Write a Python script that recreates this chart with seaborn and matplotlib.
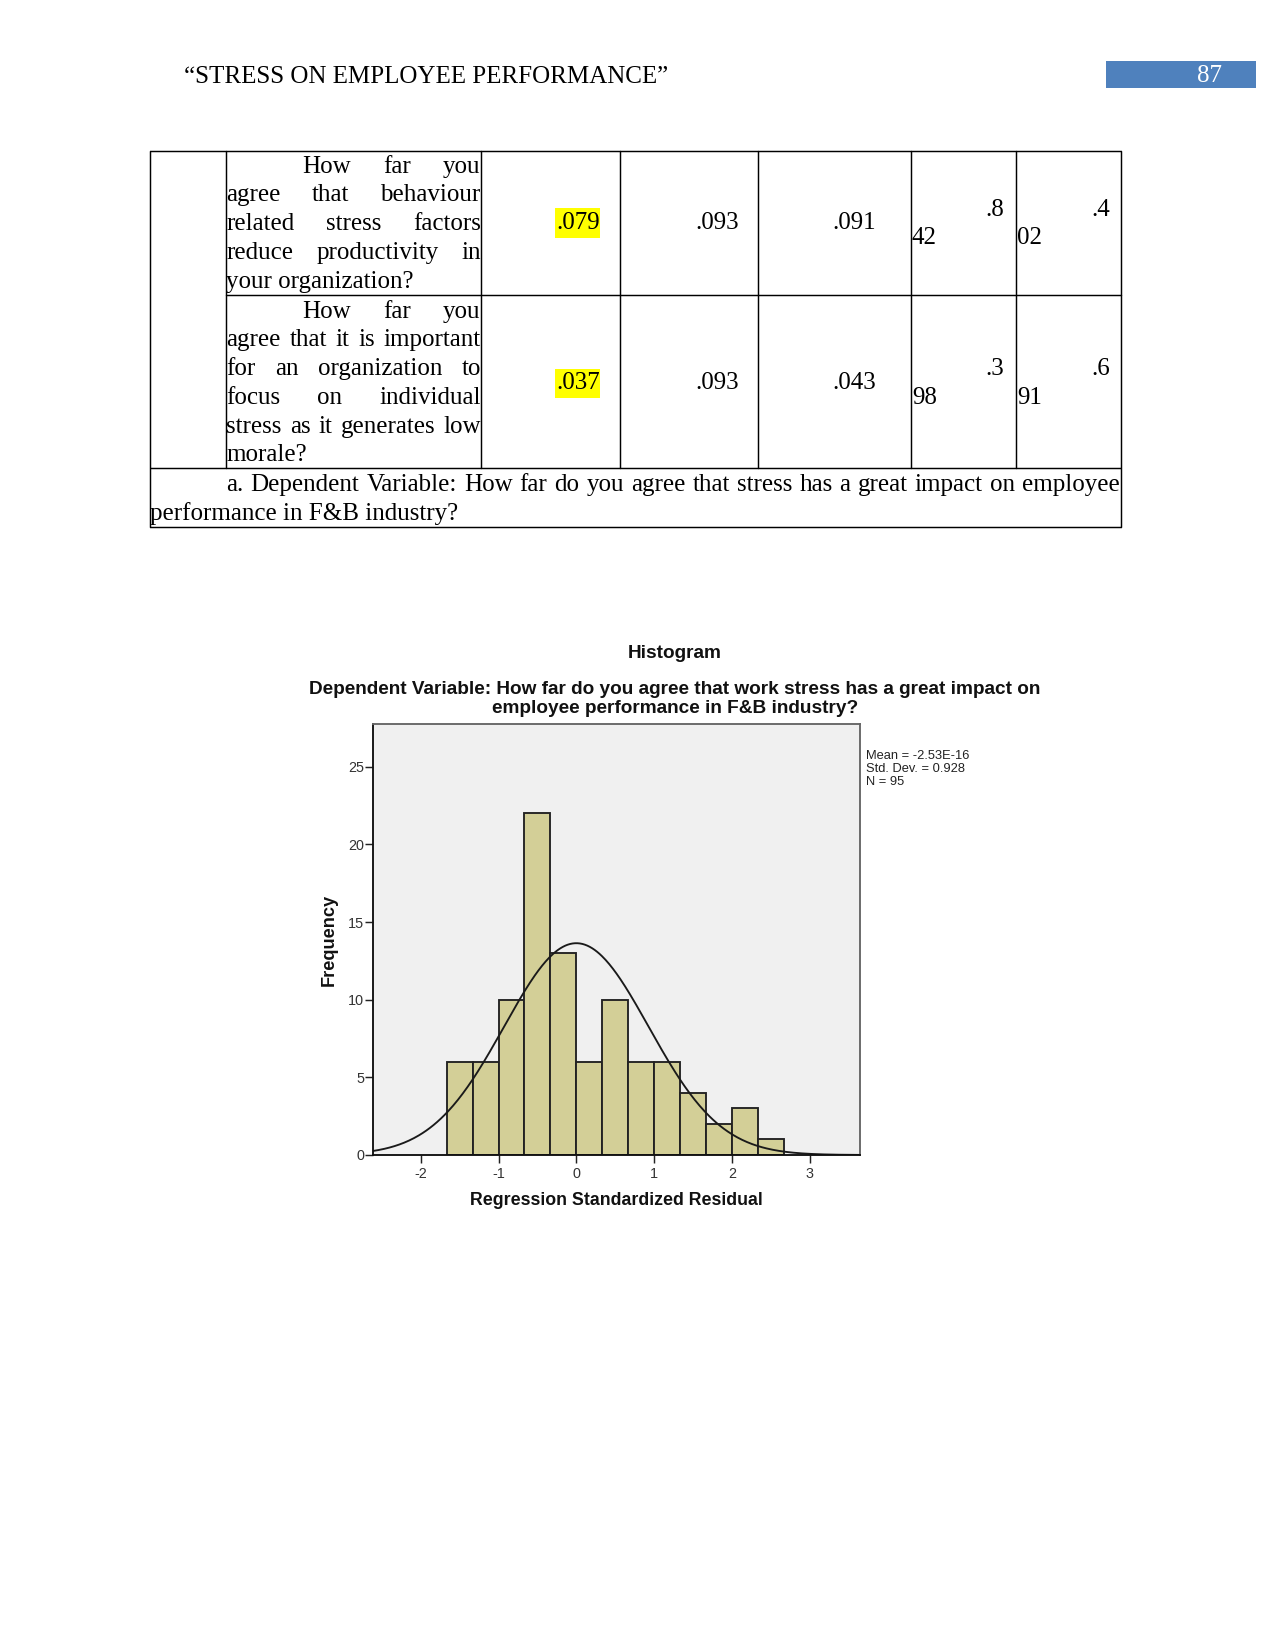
import numpy as np
import pandas as pd
import matplotlib
matplotlib.use("Agg")
import matplotlib.pyplot as plt
import seaborn as sns

# ---------------- data ----------------
bin_edges = [-1.667, -1.333, -1.0, -0.667, -0.333, 0.0, 0.333, 0.667, 1.0,
             1.333, 1.667, 2.0, 2.333, 2.667]
counts = [6, 6, 10, 22, 13, 6, 10, 6, 6, 4, 2, 3, 1]
resid_mean = -2.53e-16
resid_sd = 0.928
resid_n = 95
x_ticks = [-2, -1, 0, 1, 2, 3]
y_ticks = [0, 5, 10, 15, 20, 25]

header_title = "\u201cSTRESS ON EMPLOYEE PERFORMANCE\u201d"
page_number = "87"

row1_lines = ["How far you", "agree that behaviour", "related stress factors",
              "reduce productivity in", "your organization?"]
row2_lines = ["How far you", "agree that it is important", "for an organization to",
              "focus on individual", "stress  as it generates low", "morale?"]
row1_vals = [".079", ".093", ".091"]
row2_vals = [".037", ".093", ".043"]
row1_split = [(".8", "42"), (".4", "02")]
row2_split = [(".3", "98"), (".6", "91")]
footnote_lines = ["a. Dependent Variable: How far do you agree that stress has a great impact on employee",
                  "performance in F&B industry?"]

hist_title = "Histogram"
hist_subtitle = ["Dependent Variable: How far do you agree that work stress has a great impact on",
                 "employee performance in F&B industry?"]
x_label = "Regression Standardized Residual"
y_label = "Frequency"
legend_lines = ["Mean = -2.53E-16", "Std. Dev. = 0.928", "N = 95"]

# ---------------- figure ----------------
sns.set_style("white")
plt.rcParams['font.family'] = ['Liberation Serif', 'DejaVu Sans']

W, H = 1275, 1650
fig = plt.figure(figsize=(W / 150, H / 150), dpi=150)
page = fig.add_axes([0, 0, 1, 1])
page.set_xlim(0, W)
page.set_ylim(H, 0)
page.axis("off")
renderer = fig.canvas.get_renderer()

serif = dict(family=['Liberation Serif', 'DejaVu Serif'], fontsize=12, color='black')

# header
page.text(184, 77, header_title, ha='left', va='center', **serif)
page.add_patch(plt.Rectangle((1106, 61), 150, 27, color='#4F81BD', lw=0))
page.text(1222, 76, page_number, ha='right', va='center',
          family=['Liberation Serif'], fontsize=12, color='white')

# table lines
lw = 0.7
xl, xr = 149.5, 1121
cols = [226.4, 480.7, 619.5, 757.7, 911, 1015.7]
yt, yr, yf, yb = 150.7, 295.3, 468.3, 527.3
for y in (yt, yf, yb):
    page.plot([xl, xr], [y, y], color='black', lw=lw, solid_capstyle='butt')
page.plot([cols[0], xr], [yr, yr], color='black', lw=lw)
for x in [xl, xr]:
    page.plot([x, x], [yt, yb], color='black', lw=lw)
for x in cols:
    page.plot([x, x], [yt, yf], color='black', lw=lw)


def justify(words_line, x0, x1, y):
    words = words_line.split()
    texts = [page.text(0, y, w, ha='left', va='center', **serif) for w in words]
    widths = [t.get_window_extent(renderer).width for t in texts]
    if len(words) == 1:
        texts[0].set_x(x0)
        return
    gap = (x1 - x0 - sum(widths)) / (len(words) - 1)
    x = x0
    for t, w in zip(texts, widths):
        t.set_x(x)
        x += w + gap


def cell_lines(lines, y0, step):
    for i, ln in enumerate(lines):
        y = y0 + i * step
        x0 = 302.1 if i == 0 else cols[0]
        if i == len(lines) - 1:
            page.text(x0, y, ln, ha='left', va='center', **serif)
        else:
            justify(ln, x0, cols[1], y)


cell_lines(row1_lines, 166.7, 28.75)
cell_lines(row2_lines, 311.7, 28.75)

val_centers = [577.9, 716.7, 854.2]
for vals, yv, yh in [(row1_vals, 223.3, 208.3), (row2_vals, 383.3, 368.5)]:
    page.add_patch(plt.Rectangle((555, yh), 45, 29.4, color='#FFFF00', lw=0, zorder=1))
    for v, xc in zip(vals, val_centers):
        page.text(xc, yv, v, ha='center', va='center', zorder=3, **serif)

for splits, ya, yb2 in [(row1_split, 210, 238.3), (row2_split, 369.3, 397.5)]:
    (a1, b1), (a2, b2) = splits
    page.text(1004.5, ya, a1, ha='right', va='center', **serif)
    page.text(912, yb2, b1, ha='left', va='center', **serif)
    page.text(1110, ya, a2, ha='right', va='center', **serif)
    page.text(1017, yb2, b2, ha='left', va='center', **serif)

justify(footnote_lines[0], 226.4, 1119.5, 485)
page.text(149.5, 513.3, footnote_lines[1], ha='left', va='center', **serif)

# ---------------- histogram ----------------
sans = ['Liberation Sans', 'DejaVu Sans']
ax_l, ax_r, ax_t, ax_b = 372.5, 859.5, 723.8, 1155
ax = fig.add_axes([ax_l / W, (H - ax_b) / H, (ax_r - ax_l) / W, (ax_b - ax_t) / H])
ax.set_facecolor('#F0F0F0')

centers = [(bin_edges[i] + bin_edges[i + 1]) / 2 for i in range(len(counts))]
df = pd.DataFrame({"resid": centers, "count": counts})
sns.histplot(data=df, x="resid", weights="count", bins=bin_edges, ax=ax,
             color='#D3CF97', edgecolor='#222222', linewidth=0.9, alpha=1)

xmin, xmax = -2.62, 3.64
xs = np.linspace(xmin, xmax, 400)
bw = bin_edges[1] - bin_edges[0]
ys = resid_n * bw * np.exp(-0.5 * ((xs - resid_mean) / resid_sd) ** 2) / (resid_sd * np.sqrt(2 * np.pi))
sns.lineplot(x=xs, y=ys, ax=ax, color='#1A1A1A', lw=0.9)

ax.set_xlim(xmin, xmax)
ax.set_ylim(0, 27.77)
ax.set_xticks(x_ticks)
ax.set_yticks(y_ticks)
ax.set_xticklabels([str(t) for t in x_ticks])
ax.set_yticklabels([str(t) for t in y_ticks])
ax.tick_params(axis='both', direction='out', length=3.8, width=0.7, color='#222222',
               labelsize=6.9, labelcolor='#333333', bottom=True, left=True)
ax.tick_params(axis='x', pad=2)
ax.tick_params(axis='y', pad=0.3)
for lab in ax.get_xticklabels() + ax.get_yticklabels():
    lab.set_family(sans)
ax.set_xlabel("")
ax.set_ylabel("")
for s in ['left', 'bottom']:
    ax.spines[s].set_color('#111111')
    ax.spines[s].set_linewidth(0.9)
for s in ['top', 'right']:
    ax.spines[s].set_color('#666666')
    ax.spines[s].set_linewidth(0.9)

page.text(616.7, 1200.7, x_label, ha='center', va='center', family=sans,
          fontweight='bold', fontsize=8.5, color='#111111')
page.text(329.6, 940, y_label, ha='center', va='center', rotation=90, family=sans,
          fontweight='bold', fontsize=8.7, color='#111111')
page.text(675, 653, hist_title, ha='center', va='center', family=sans,
          fontweight='bold', fontsize=9.1, color='#111111')
page.text(675, 690, hist_subtitle[0], ha='center', va='center', family=sans,
          fontweight='bold', fontsize=9.1, color='#111111')
page.text(675, 708.5, hist_subtitle[1], ha='center', va='center', family=sans,
          fontweight='bold', fontsize=9.1, color='#111111')
for i, ln in enumerate(legend_lines):
    page.text(866, 756 + i * 13.2, ln, ha='left', va='center', family=sans,
              fontsize=6.2, color='#222222')

fig.savefig("out.png", dpi=150)
